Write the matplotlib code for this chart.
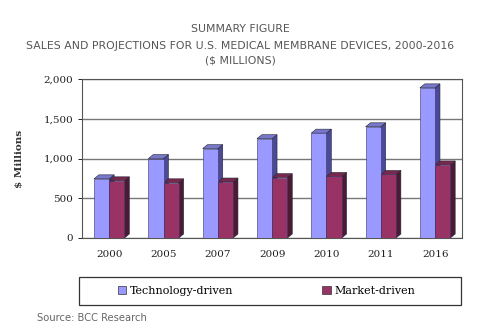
import numpy as np
import matplotlib.pyplot as plt
from matplotlib.patches import Polygon, Rectangle

years = ['2000', '2005', '2007', '2009', '2010', '2011', '2016']
tech = [745, 1000, 1125, 1250, 1320, 1400, 1890]
market = [720, 695, 705, 760, 775, 800, 920]

fig = plt.figure(figsize=(4.8, 3.31), dpi=100)
ax = fig.add_axes([0.171, 0.281, 0.792, 0.48])

x = np.arange(len(years))
w = 0.28
dx = 0.09    # depth in x (group units)
dy = 50      # depth in y (data units)

def bar3d(xs, vals, front, side, top):
    bars = ax.bar(xs, vals, w, color=front, edgecolor='#333366', linewidth=0.4, zorder=3)
    for b in bars:
        x0 = b.get_x()
        x1 = x0 + b.get_width()
        h = b.get_height()
        ax.add_patch(Polygon([(x1, 0), (x1 + dx, dy), (x1 + dx, h + dy), (x1, h)],
                             closed=True, facecolor=side, edgecolor='#222233', lw=0.4, zorder=2))
        ax.add_patch(Polygon([(x0, h), (x0 + dx, h + dy), (x1 + dx, h + dy), (x1, h)],
                             closed=True, facecolor=top, edgecolor='#222233', lw=0.4, zorder=2))

bar3d(x - w / 2, tech, '#9999ff', '#4a4a99', '#7777cc')
bar3d(x + w / 2, market, '#993366', '#4d1a33', '#77284f')

serif = 'DejaVu Serif'
ax.set_xlim(-0.5, 6.5)
ax.set_ylim(0, 2000)
ax.set_yticks([0, 500, 1000, 1500, 2000])
ax.set_yticklabels(['0', '500', '1,000', '1,500', '2,000'], family=serif, fontsize=7.5, color='#222222')
ax.set_xticks(x)
ax.set_xticklabels(years, family=serif, fontsize=7.5, color='#222222')
ax.tick_params(axis='x', length=0, pad=9)
ax.tick_params(axis='y', length=3, width=0.6)
ax.yaxis.grid(True, color='#777777', linewidth=1.0, zorder=0)
ax.set_axisbelow(True)
for s in ax.spines.values():
    s.set_color('#555555')
    s.set_linewidth(0.8)
ax.set_ylabel('$ Millions', family=serif, fontweight='bold', fontsize=7.5, color='#333333', labelpad=14)

fig.text(0.5, 0.903, 'SUMMARY FIGURE', ha='center', fontsize=7.8, color='#555555')
fig.text(0.5, 0.852, 'SALES AND PROJECTIONS FOR U.S. MEDICAL MEMBRANE DEVICES, 2000-2016',
         ha='center', fontsize=7.8, color='#555555')
fig.text(0.5, 0.807, '($ MILLIONS)', ha='center', fontsize=7.8, color='#555555')

# legend box below the axes
ax.add_patch(Rectangle((-0.008, -0.42), 1.005, 0.175, transform=ax.transAxes, clip_on=False,
                       facecolor='white', edgecolor='#333333', linewidth=0.9))
leg = ax.legend([Rectangle((0, 0), 1, 1, fc='#9999ff', ec='#333333', lw=0.5),
                 Rectangle((0, 0), 1, 1, fc='#993366', ec='#333333', lw=0.5)],
                ['Technology-driven', 'Market-driven'],
                loc='center', bbox_to_anchor=(0.485, -0.333), ncol=2, frameon=False,
                prop={'family': serif, 'size': 8},
                handlelength=0.8, handleheight=0.8, handletextpad=0.3, columnspacing=8)

fig.text(0.077, 0.03, 'Source: BCC Research', fontsize=7.2, color='#666666')

fig.savefig('out.png', dpi=100)
